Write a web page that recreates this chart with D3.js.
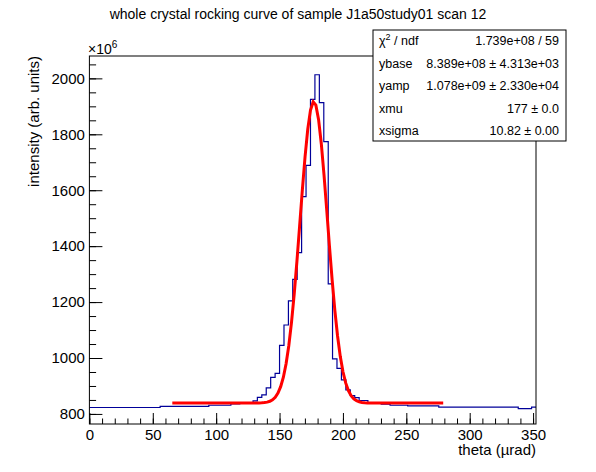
<!DOCTYPE html>
<html>
<head>
<meta charset="utf-8">
<script src="https://cdn.jsdelivr.net/npm/d3@7"></script>
<style>
body { margin: 0; background: #fff; }
text { font-family: "Liberation Sans", Arial, Helvetica, sans-serif; fill: #000; }
</style>
</head>
<body>
<svg id="chart" width="596" height="472"></svg>
<script>
// histogram steps: theta edges (µrad) and contents (x10^6)
var binEdges = [0, 55.8, 94.2, 111.6, 118.6, 129.1, 132.5, 136.0, 139.5, 143.0, 146.5,
  150.0, 153.5, 157.0, 160.4, 163.9, 167.4, 170.9, 174.4, 177.9, 181.4, 184.9,
  188.4, 191.8, 195.3, 198.8, 202.3, 205.8, 209.3, 212.8, 219.7, 230.2, 237.2,
  251.1, 275.6, 338.3, 348.8, 352.3];
var binValues = [823, 827, 831, 835.5, 839, 847, 859, 868, 893, 931, 945,
  1045, 1118, 1204, 1281, 1377, 1577, 1689, 1925, 2013, 1913, 1774,
  1265, 997, 963, 922, 886, 866, 858, 848, 838, 835, 831,
  828.5, 824, 819, 824];

var xTicks = [0, 50, 100, 150, 200, 250, 300, 350];
var yTicks = [800, 1000, 1200, 1400, 1600, 1800, 2000];

// fit: ybase + yamp * gaus(xmu, xsigma), values from the stats box
var fitParams = [838.9, 1078, 177, 10.82];
var fitRange = [65.4, 279.1];

var statLabels = ["chi2", "ybase", "yamp", "xmu", "xsigma"];
var statValues = ["1.739e+08 / 59", "8.389e+08 \u00b1 4.313e+03", "1.078e+09 \u00b1 2.330e+04",
  "177 \u00b1 0.0", "10.82 \u00b1 0.00"];

var W = 596, H = 472;
var fl = 89.4, fr = 536, ft = 56, fb = 424;

var svg = d3.select("#chart");
svg.append("rect").attr("width", W).attr("height", H).attr("fill", "#fff");

var x = d3.scaleLinear().domain([0, 352.3]).range([fl, fr]);
var y = d3.scaleLinear().domain([764, 2080]).range([fb, ft]);

svg.append("defs").append("clipPath").attr("id", "clip")
  .append("rect").attr("x", fl).attr("y", ft).attr("width", fr - fl).attr("height", fb - ft);

// histogram outline
var steps = [];
binValues.forEach(function(v, i) {
  steps.push([binEdges[i], v]);
  steps.push([binEdges[i + 1], v]);
});
svg.append("path")
  .attr("clip-path", "url(#clip)")
  .attr("d", d3.line().x(function(d) { return x(d[0]); }).y(function(d) { return y(d[1]); })(steps))
  .attr("fill", "none")
  .attr("stroke", "#000099")
  .attr("stroke-width", 1.2);

// fit curve
var fitX = d3.range(101).map(function(i) {
  return fitRange[0] + (fitRange[1] - fitRange[0]) * i / 100;
});
var fitFn = function(t) {
  var z = (t - fitParams[2]) / fitParams[3];
  return fitParams[0] + fitParams[1] * Math.exp(-0.5 * z * z);
};
svg.append("path")
  .attr("clip-path", "url(#clip)")
  .attr("d", d3.line().x(function(d) { return x(d); }).y(function(d) { return y(fitFn(d)); })(fitX))
  .attr("fill", "none")
  .attr("stroke", "#ff0000")
  .attr("stroke-width", 3);

// axes
var xMinor = d3.range(0, 351, 10);
var yMinor = d3.range(800, 2051, 50);

svg.append("g").attr("transform", "translate(0," + fb + ")")
  .call(d3.axisBottom(x).tickValues(xMinor).tickSize(-5.5).tickFormat(""))
  .call(function(g) { g.select(".domain").remove(); });
var gx = svg.append("g").attr("transform", "translate(0," + fb + ")")
  .call(d3.axisBottom(x).tickValues(xTicks).tickSize(-11).tickPadding(5).tickFormat(d3.format("d")));
gx.select(".domain").remove();
gx.selectAll("text").style("font-size", "15px");

svg.append("g").attr("transform", "translate(" + fl + ",0)")
  .call(d3.axisLeft(y).tickValues(yMinor).tickSize(-6.7).tickFormat(""))
  .call(function(g) { g.select(".domain").remove(); });
var gy = svg.append("g").attr("transform", "translate(" + fl + ",0)")
  .call(d3.axisLeft(y).tickValues(yTicks).tickSize(-13).tickPadding(4.5).tickFormat(d3.format("d")));
gy.select(".domain").remove();
gy.selectAll("text").style("font-size", "15px");
svg.selectAll(".tick line").attr("stroke", "#000");

// frame
svg.append("rect").attr("x", fl).attr("y", ft).attr("width", fr - fl).attr("height", fb - ft)
  .attr("fill", "none").attr("stroke", "#000").attr("stroke-width", 1);

// exponent
var ex = svg.append("text").attr("x", 88).attr("y", 53.5).style("font-size", "14px");
ex.append("tspan").text("\u00d710");
ex.append("tspan").attr("dy", -6).style("font-size", "10px").text("6");

// titles
svg.append("text").attr("x", 298).attr("y", 19).attr("text-anchor", "middle")
  .style("font-size", "14px").text("whole crystal rocking curve of sample J1a50study01 scan 12");
svg.append("text").attr("x", fr).attr("y", 455).attr("text-anchor", "end")
  .style("font-size", "15px").text("theta (\u00b5rad)");
svg.append("text").attr("transform", "translate(39," + ft + ") rotate(-90)")
  .attr("text-anchor", "end").style("font-size", "15px").text("intensity (arb. units)");

// stats box
var bx = 373, by = 30, bw = 193, bh = 111;
svg.append("rect").attr("x", bx).attr("y", by).attr("width", bw).attr("height", bh)
  .attr("fill", "#fff").attr("stroke", "#000").attr("stroke-width", 1);
statLabels.forEach(function(lab, i) {
  var cy = by + 10.5 + i * 22.6 + 4.4;
  var t = svg.append("text").attr("x", bx + 6).attr("y", cy).style("font-size", "12.5px");
  if (lab === "chi2") {
    t.append("tspan").text("\u03c7");
    t.append("tspan").attr("dy", -5).style("font-size", "9px").text("2");
    t.append("tspan").attr("dy", 5).text(" / ndf");
  } else {
    t.text(lab);
  }
  svg.append("text").attr("x", bx + bw - 7).attr("y", cy).attr("text-anchor", "end")
    .style("font-size", "12.5px").text(statValues[i]);
});
</script>
</body>
</html>
